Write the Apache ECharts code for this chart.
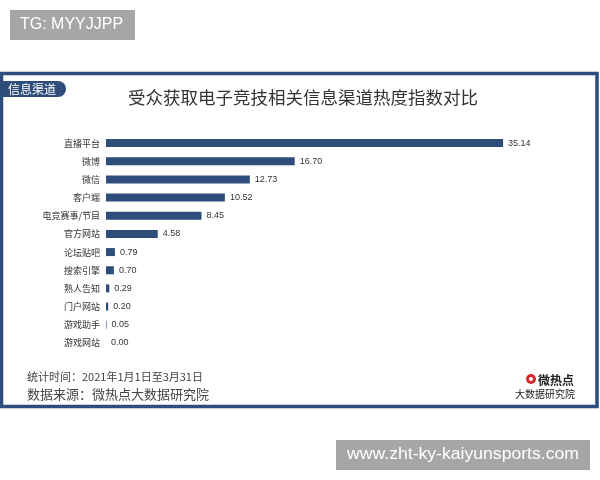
<!DOCTYPE html>
<html><head><meta charset="utf-8">
<script src="https://cdn.jsdelivr.net/npm/echarts@6/dist/echarts.min.js"></script>
<style>html,body{margin:0;padding:0;background:#fff}#c{width:600px;height:480px}</style>
</head><body><div id="c"></div>
<script>
const categories = ['直播平台','微博','微信','客户端','电竞赛事/节目','官方网站','论坛贴吧','搜索引擎','熟人告知','门户网站','游戏助手','游戏网站'];
const values = [35.14, 16.70, 12.73, 10.52, 8.45, 4.58, 0.79, 0.70, 0.29, 0.20, 0.05, 0.00];
const titleText = '受众获取电子竞技相关信息渠道热度指数对比';
const tagText = '信息渠道';
const noteTime = '统计时间：2021年1月1日至3月31日';
const noteSource = '数据来源：微热点大数据研究院';
const topBadge = 'TG: MYYJJPP';
const bottomBadge = 'www.zht-ky-kaiyunsports.com';

const FONT = '"Noto Sans CJK SC", "Noto Sans", sans-serif';
const LAT = '"Liberation Sans", Arial, sans-serif';
const BLUE = '#2e4d7a';
const chart = echarts.init(document.getElementById('c'));
chart.setOption({
  animation: false,
  backgroundColor: '#fff',
  textStyle: {fontFamily: FONT},
  grid: {left: 106, top: 134, width: 452, height: 218},
  xAxis: {type: 'value', min: 0, max: 40, show: false},
  yAxis: {
    type: 'category', data: categories, inverse: true,
    axisLine: {show: false}, axisTick: {show: false},
    axisLabel: {fontSize: 9, color: '#333', margin: 6, fontFamily: FONT}
  },
  series: [{
    type: 'bar', data: values, barWidth: 8,
    itemStyle: {color: BLUE},
    label: {show: true, position: 'right', distance: 5, fontSize: 9, color: '#333', fontFamily: LAT,
      formatter: p => Number(p.value).toFixed(2)}
  }],
  graphic: [
    {type: 'rect', shape: {x: 10, y: 10, width: 125, height: 30}, style: {fill: '#a6a6a6'}},
    {type: 'text', x: 20, y: 25, style: {text: topBadge, fill: '#fff', font: '16px ' + LAT, textVerticalAlign: 'middle'}},
    {type: 'rect', shape: {x: 1.5, y: 73.5, width: 595.5, height: 333}, style: {fill: 'none', stroke: BLUE, lineWidth: 3.5}},
    {type: 'rect', shape: {x: 2, y: 81, width: 64, height: 16, r: [0, 8, 8, 0]}, style: {fill: BLUE}},
    {type: 'text', x: 8, y: 89, style: {text: tagText, fill: '#fff', font: '12px ' + FONT, textVerticalAlign: 'middle'}},
    {type: 'text', x: 303, y: 97, style: {text: titleText, fill: '#333', font: '17.5px ' + FONT, textAlign: 'center', textVerticalAlign: 'middle'}},
    {type: 'text', x: 27, y: 377, style: {text: noteTime, fill: '#444', font: '11px ' + FONT, textVerticalAlign: 'middle'}},
    {type: 'text', x: 27, y: 394, style: {text: noteSource, fill: '#444', font: '13px ' + FONT, textVerticalAlign: 'middle'}},
    {type: 'circle', shape: {cx: 531, cy: 379, r: 5}, style: {fill: '#d0282d'}},
    {type: 'circle', shape: {cx: 531, cy: 379, r: 2}, style: {fill: '#fff'}},
    {type: 'text', x: 538, y: 380, style: {text: '微热点', fill: '#222', font: 'bold 12px ' + FONT, textVerticalAlign: 'middle'}},
    {type: 'text', x: 515, y: 394, style: {text: '大数据研究院', fill: '#222', font: '10px ' + FONT, textVerticalAlign: 'middle'}},
    {type: 'rect', shape: {x: 336, y: 440, width: 254, height: 30}, style: {fill: '#a6a6a6'}},
    {type: 'text', x: 463, y: 455, scaleX: 1.1, style: {text: bottomBadge, fill: '#fff', font: '16px ' + LAT, textAlign: 'center', textVerticalAlign: 'middle'}}
  ]
});
</script></body></html>
